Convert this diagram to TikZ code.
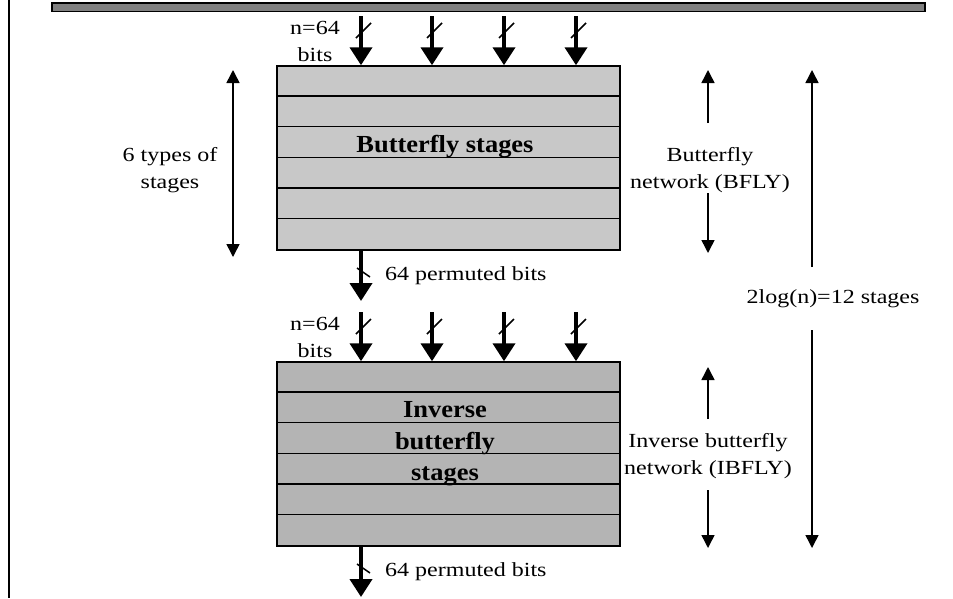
\documentclass[tikz,border=0pt]{standalone}
\usepackage{fontspec}
\setmainfont{Liberation Serif}[FakeStretch=1.2]
\newfontfamily\blockfont{Liberation Serif}[FakeStretch=1.08]
\usetikzlibrary{arrows.meta}
\definecolor{barfill}{RGB}{128,128,128}
\definecolor{bflyfill}{RGB}{200,200,200}
\definecolor{ibflyfill}{RGB}{180,180,180}
\tikzset{
  txt/.style={inner sep=0pt, align=center, font=\fontsize{20}{27}\selectfont},
  boldtxt/.style={inner sep=0pt, align=center, font=\blockfont\fontsize{24.5}{31.5}\selectfont\bfseries},
  stagebox/.style={draw, line width=1.5pt, minimum width=343pt, inner sep=0pt},
  busarrow/.style={line width=4pt, -{Triangle[width=22pt,length=18pt]}},
  slash/.style={line width=1.5pt},
  spanarrow/.style={line width=1.5pt, -{Triangle[width=13pt,length=13pt]}},
  spanboth/.style={line width=1.5pt, {Triangle[width=13pt,length=13pt]}-{Triangle[width=13pt,length=13pt]}},
}
\begin{document}
\begin{tikzpicture}[x=1pt, y=-1pt]
\useasboundingbox (0,0) rectangle (953,598);

% frame line on the left and shaded bus on top
\draw[line width=2pt] (8.5,0) -- (8.5,598);
\node[draw, line width=1.5pt, fill=barfill, minimum width=873pt, minimum height=8.5pt, inner sep=0pt] (bus) at (488.5,7) {};

% the two stage blocks
\node[stagebox, fill=bflyfill, minimum height=184pt] (bfly) at (448.5,158) {};
\node[stagebox, fill=ibflyfill, minimum height=184pt] (ibfly) at (448.5,454) {};
\foreach \k in {1,...,5}{
  \draw[line width=1.5pt] ([yshift=-\k*30.67pt]bfly.north west) -- ([yshift=-\k*30.67pt]bfly.north east);
  \draw[line width=1.5pt] ([yshift=-\k*30.67pt]ibfly.north west) -- ([yshift=-\k*30.67pt]ibfly.north east);
}
\node[boldtxt] (bflytxt) at (445,147) {Butterfly stages};
\node[boldtxt] (ibflytxt) at (445,444) {Inverse\\butterfly\\stages};

% 64-bit inputs into each block
\foreach \x [count=\i] in {361,432,504,576}{
  \coordinate (ina\i) at (\x,16);
  \draw[busarrow] (ina\i) -- (ina\i |- bfly.north);
  \draw[slash] ([shift={(-5,38)}]ina\i |- 0,0) -- ([shift={(10,23)}]ina\i |- 0,0);
  \coordinate (inb\i) at (\x,312);
  \draw[busarrow] (inb\i) -- (inb\i |- ibfly.north);
  \draw[slash] ([shift={(-5,334)}]inb\i |- 0,0) -- ([shift={(10,319)}]inb\i |- 0,0);
}
\node[txt] (nbitsa) at (315,41) {n=64\\bits};
\node[txt] (nbitsb) at (315,337) {n=64\\bits};

% permuted outputs
\coordinate (outa) at (361,301);
\coordinate (outb) at (361,597);
\draw[busarrow] (bfly.south -| outa) -- (outa);
\draw[busarrow] (ibfly.south -| outb) -- (outb);
\draw[slash] (357,268) -- (370,277);
\draw[slash] (357,564) -- (370,573);
\node[txt, anchor=west] (perma) at (385,276) {64 permuted bits};
\node[txt, anchor=west] (permb) at (385,572) {64 permuted bits};

% stage counts on the left
\coordinate (typtop) at (233,70);
\coordinate (typbot) at (233,257);
\draw[spanboth] (typtop) -- (typbot);
\node[txt] (types) at (170,170) {6 types of\\stages};

% network extents on the right
\node[txt] (bflylab) at (710,170) {Butterfly\\network (BFLY)};
\coordinate (bflyup) at (708,70);
\coordinate (bflydn) at (708,253);
\draw[spanarrow] (708,123) -- (bflyup);
\draw[spanarrow] (708,193) -- (bflydn);

\node[txt] (ibflylab) at (708,456) {Inverse butterfly\\network (IBFLY)};
\coordinate (ibflyup) at (708,367);
\coordinate (ibflydn) at (708,548);
\draw[spanarrow] (708,419) -- (ibflyup);
\draw[spanarrow] (708,490) -- (ibflydn);

\node[txt] (total) at (833,299) {2log(n)=12 stages};
\coordinate (totup) at (812,70);
\coordinate (totdn) at (812,548);
\draw[spanarrow] (812,267) -- (totup);
\draw[spanarrow] (812,330) -- (totdn);
\end{tikzpicture}
\end{document}
